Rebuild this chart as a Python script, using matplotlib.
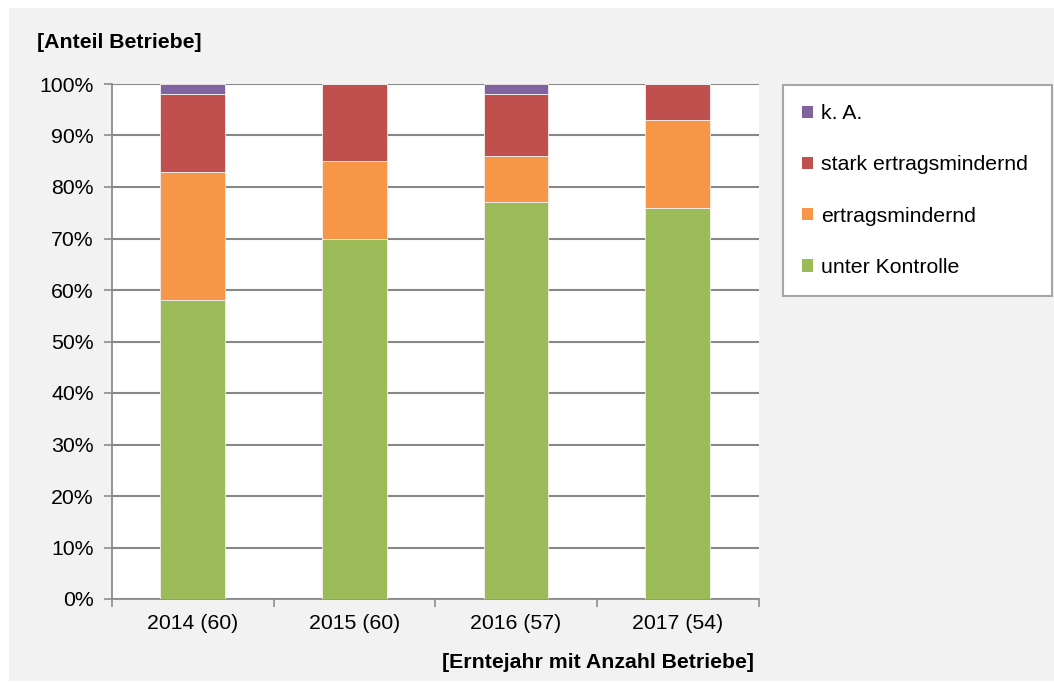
import matplotlib
matplotlib.use("Agg")
import matplotlib.pyplot as plt
from matplotlib.patches import Patch, Rectangle
import numpy as np

plt.rcParams['font.family'] = ['Liberation Sans', 'DejaVu Sans']

categories = ["2014 (60)", "2015 (60)", "2016 (57)", "2017 (54)"]
series_names = ["unter Kontrolle", "ertragsmindernd", "stark ertragsmindernd", "k. A."]
unter_kontrolle = [58, 70, 77, 76]
ertragsmindernd = [25, 15, 9, 17]
stark_ertragsmindernd = [15, 15, 12, 7]
k_a = [2, 0, 2, 0]
colors = ["#9BBB59", "#F79646", "#C0504D", "#8064A2"]
yticks = [0, 10, 20, 30, 40, 50, 60, 70, 80, 90, 100]

FS = 15.3
W, H = 1054, 682
fig = plt.figure(figsize=(W / 100, H / 100), dpi=100, facecolor="white")
# gray chart background
fig.patches.append(Rectangle((9 / W, 1 / H), (W - 9) / W, (H - 8 - 1) / H,
                             transform=fig.transFigure, facecolor="#F2F2F2",
                             edgecolor="none", zorder=-10))

ax = fig.add_axes([112 / W, (H - 599) / H, (758.5 - 112) / W, (599 - 84) / H])
ax.set_facecolor("white")

x = np.arange(len(categories))
data = [unter_kontrolle, ertragsmindernd, stark_ertragsmindernd, k_a]
bottom = np.zeros(len(categories))
for vals, col, name in zip(data, colors, series_names):
    vals = np.array(vals, dtype=float)
    ax.bar(x, vals, 0.4, bottom=bottom, color=col, edgecolor="#f4f0ee",
           linewidth=0.6, label=name, zorder=3)
    bottom += vals

ax.set_xlim(-0.5, len(categories) - 0.5)
ax.set_ylim(0, 100)
ax.set_yticks(yticks)
ax.set_yticklabels([f"{v}%" for v in yticks])
ax.yaxis.grid(True, color="#878787", linewidth=1.5, zorder=1)
ax.set_axisbelow(True)

ax.set_xticks(x)
ax.set_xticklabels(categories)
ax.set_xticks(np.arange(len(categories) + 1) - 0.5, minor=True)
ax.tick_params(axis="x", which="major", length=0, pad=11, labelsize=FS)
ax.tick_params(axis="x", which="minor", length=6, width=1.2, color="#8C8C8C")
ax.tick_params(axis="y", length=6, width=1.2, color="#8C8C8C", pad=7, labelsize=FS)

for s in ["top", "right"]:
    ax.spines[s].set_visible(False)
for s in ["left", "bottom"]:
    ax.spines[s].set_color("#8C8C8C")
    ax.spines[s].set_linewidth(1.3)

fig.text(37 / W, 1 - 43 / H, "[Anteil Betriebe]", fontsize=FS, fontweight="bold",
         va="center", ha="left")
fig.text(754 / W, 1 - 662 / H, "[Erntejahr mit Anzahl Betriebe]", fontsize=FS,
         fontweight="bold", va="center", ha="right")

handles = [Patch(facecolor=c, edgecolor="none") for c in colors][::-1]
labels = series_names[::-1]
leg = fig.legend(handles, labels, loc="upper left",
                 bbox_to_anchor=(783 / W, 1 - 85 / H, (1052 - 783) / W, 0),
                 mode="expand", fontsize=FS, frameon=True, fancybox=False,
                 edgecolor="#A6A6A6", facecolor="white", framealpha=1,
                 handlelength=0.5, handleheight=0.5, handletextpad=0.4,
                 labelspacing=1.52, borderpad=0.9, borderaxespad=0)
leg.get_frame().set_linewidth(1.5)

fig.savefig("out.png", dpi=100, facecolor=fig.get_facecolor())
